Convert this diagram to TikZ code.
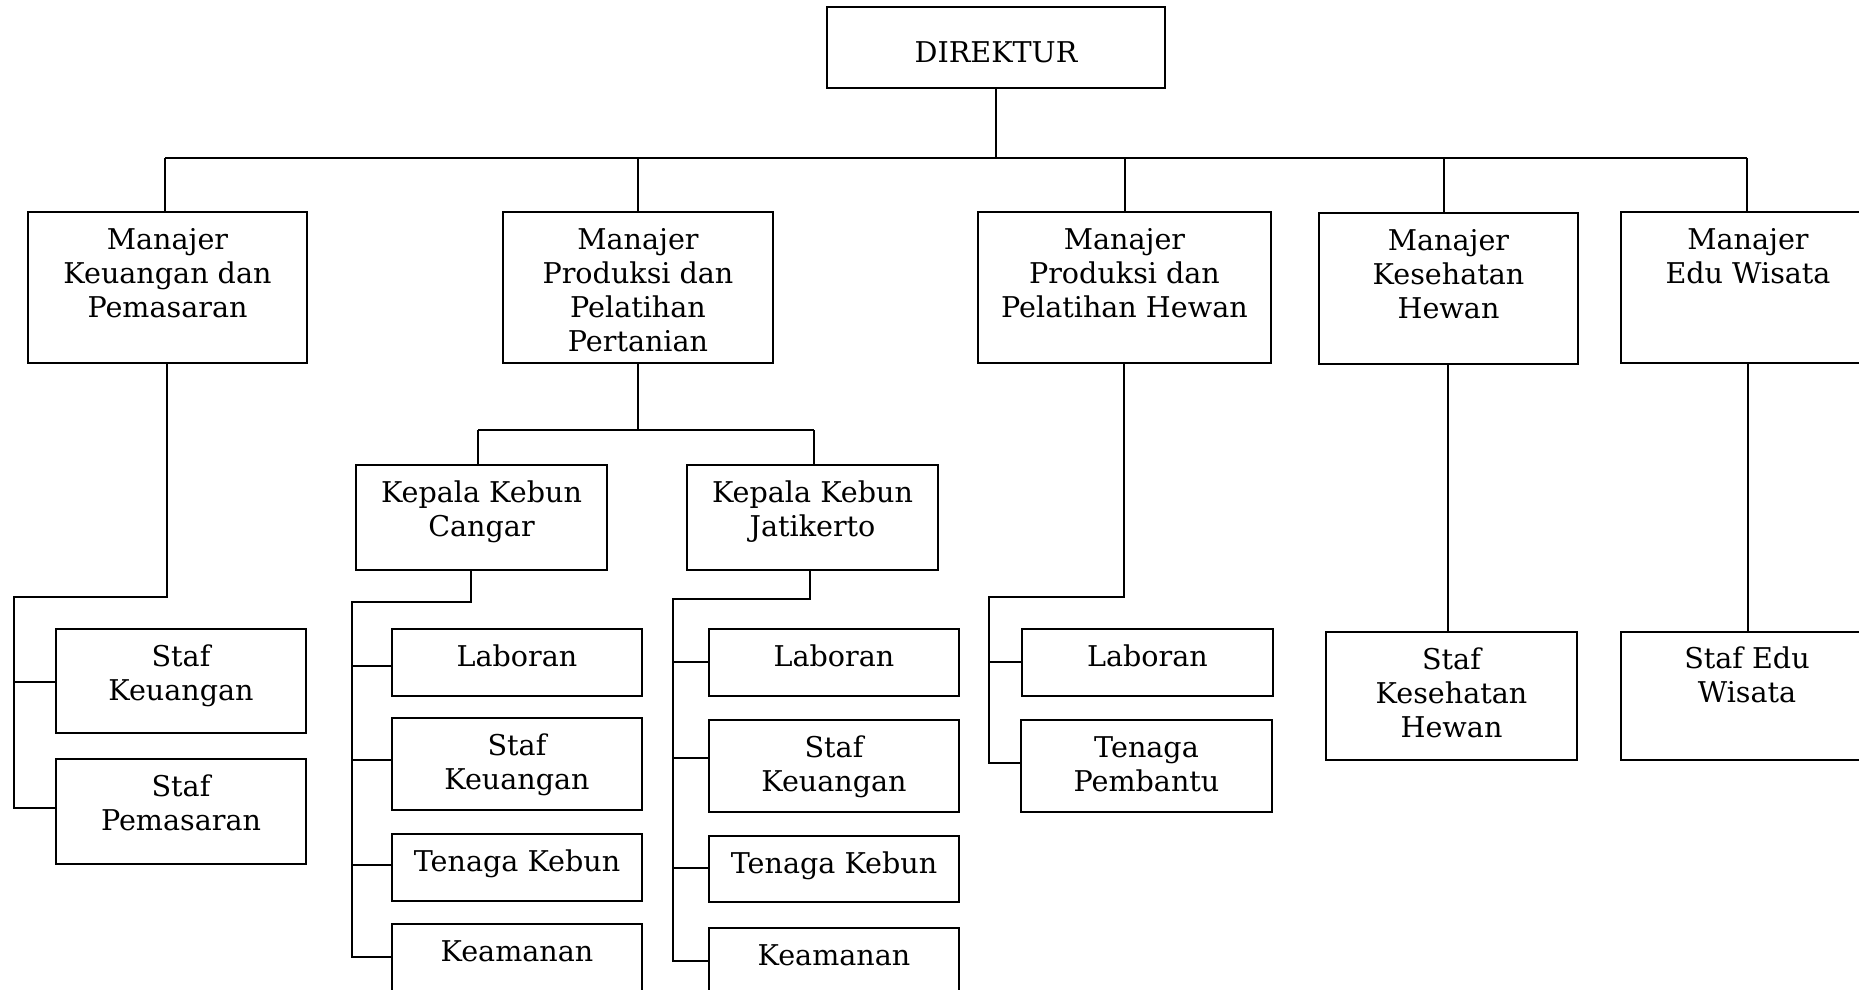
\documentclass[tikz,border=0pt]{standalone}
\usepackage{fontspec}
\setmainfont{DejaVu Serif}
\usetikzlibrary{calc}
\tikzset{
  orgframe/.style={draw, line width=1pt, inner sep=0pt, anchor=north west},
  orgtext/.style={anchor=north, inner sep=0pt, align=center, font=\fontsize{14.3pt}{17pt}\selectfont},
  conn/.style={line width=0.9pt}
}
% name, x1, y1, x2, y2, first-baseline offset (pt), text
\newcommand\orgbox[7]{%
  \node[orgframe, minimum width={(#4-#2)*0.5pt}, minimum height={(#5-#3)*0.5pt}] (#1) at (#2,#3) {};
  \node[orgtext] (#1-t) at (#1.north) {\rule{0pt}{#6pt}#7};
}
\begin{document}
\begin{tikzpicture}[x=0.5pt, y=-0.5pt]
\useasboundingbox (0,0) rectangle (1859,990);
\clip (0,0) rectangle (1859,990);
\fill[white] (0,0) rectangle (1859,990);

% top
\orgbox{dir}{826}{6}{1164}{87}{28}{DIREKTUR}

% managers
\orgbox{mk}{27}{211}{306}{362}{19}{Manajer\\Keuangan dan\\Pemasaran}
\orgbox{mp}{502}{211}{772}{362}{19}{Manajer\\Produksi dan\\Pelatihan\\Pertanian}
\orgbox{mh}{977}{211}{1270}{362}{19}{Manajer\\Produksi dan\\Pelatihan Hewan}
\orgbox{mkh}{1318}{212}{1577}{363}{19}{Manajer\\Kesehatan\\Hewan}
\orgbox{me}{1620}{211}{1874}{362}{19}{Manajer\\Edu Wisata}

% Keuangan staff
\orgbox{sk}{55}{628}{305}{732}{19}{Staf\\Keuangan}
\orgbox{sp}{55}{758}{305}{863}{19}{Staf\\Pemasaran}

% Kepala kebun
\orgbox{kc}{355}{464}{606}{569}{19}{Kepala Kebun\\Cangar}
\orgbox{kj}{686}{464}{937}{569}{19}{Kepala Kebun\\Jatikerto}

% Cangar staff
\orgbox{ca}{391}{628}{641}{695}{19}{Laboran}
\orgbox{cb}{391}{717}{641}{809}{19}{Staf\\Keuangan}
\orgbox{cc}{391}{833}{641}{900}{19}{Tenaga Kebun}
\orgbox{cd}{391}{923}{641}{995}{19}{Keamanan}

% Jatikerto staff
\orgbox{ja}{708}{628}{958}{695}{19}{Laboran}
\orgbox{jb}{708}{719}{958}{811}{19}{Staf\\Keuangan}
\orgbox{jc}{708}{835}{958}{901}{19}{Tenaga Kebun}
\orgbox{jd}{708}{927}{958}{999}{19}{Keamanan}

% Hewan staff
\orgbox{ha}{1021}{628}{1272}{695}{19}{Laboran}
\orgbox{hb}{1020}{719}{1271}{811}{19}{Tenaga\\Pembantu}

% Kesehatan / Edu staff
\orgbox{ks}{1325}{631}{1576}{759}{19}{Staf\\Kesehatan\\Hewan}
\orgbox{es}{1620}{631}{1872}{759}{18.5}{Staf Edu\\Wisata}

% ---- connectors ----
\coordinate (busL) at (165,158);
\coordinate (busR) at (1747,158);
\draw[conn] (dir.south) -- (dir.south |- busL);
\draw[conn] (busL) -- (busR);
\draw[conn] (busL) -- (busL |- mk.north);
\draw[conn] (mp.north |- busL) -- (mp.north);
\coordinate (mhd) at (1125,158);
\draw[conn] (mhd) -- (mhd |- mh.north);
\coordinate (khd) at (1444,158);
\draw[conn] (khd) -- (khd |- mkh.north);
\draw[conn] (busR) -- (busR |- me.north);

% Keuangan
\coordinate (kL) at (14,597);
\coordinate (kdn) at (167,362);
\coordinate (kt1) at (55,682);
\coordinate (kt2) at (55,808);
\draw[conn] (kdn) |- (kL) -- (kL |- kt2) -- (kt2);
\draw[conn] (kL |- kt1) -- (kt1);

% Pertanian -> Kepala
\coordinate (kbL) at (478,430);
\coordinate (kbR) at (814,430);
\draw[conn] (mp.south) -- (mp.south |- kbL);
\draw[conn] (kbL) -- (kbR);
\draw[conn] (kbL) -- (kbL |- kc.north);
\draw[conn] (kbR) -- (kbR |- kj.north);

% Cangar
\coordinate (cL) at (352,602);
\coordinate (cdn) at (471,569);
\coordinate (ct1) at (391,666);
\coordinate (ct2) at (391,760);
\coordinate (ct3) at (391,865);
\coordinate (ct4) at (391,957);
\draw[conn] (cdn) |- (cL) -- (cL |- ct4) -- (ct4);
\draw[conn] (cL |- ct1) -- (ct1);
\draw[conn] (cL |- ct2) -- (ct2);
\draw[conn] (cL |- ct3) -- (ct3);

% Jatikerto
\coordinate (jL) at (673,599);
\coordinate (jdn) at (810,569);
\coordinate (jt1) at (708,662);
\coordinate (jt2) at (708,758);
\coordinate (jt3) at (708,868);
\coordinate (jt4) at (708,961);
\draw[conn] (jdn) |- (jL) -- (jL |- jt4) -- (jt4);
\draw[conn] (jL |- jt1) -- (jt1);
\draw[conn] (jL |- jt2) -- (jt2);
\draw[conn] (jL |- jt3) -- (jt3);

% Hewan
\coordinate (hL) at (989,597);
\coordinate (hdn) at (1124,362);
\coordinate (ht1) at (1021,662);
\coordinate (ht2) at (1020,763);
\draw[conn] (hdn) |- (hL) -- (hL |- ht2) -- (ht2);
\draw[conn] (hL |- ht1) -- (ht1);

% Kesehatan / Edu
\coordinate (ksd) at (1448,363);
\draw[conn] (ksd) -- (ksd |- ks.north);
\draw[conn] (me.south) -- (me.south |- es.north);
\end{tikzpicture}
\end{document}
